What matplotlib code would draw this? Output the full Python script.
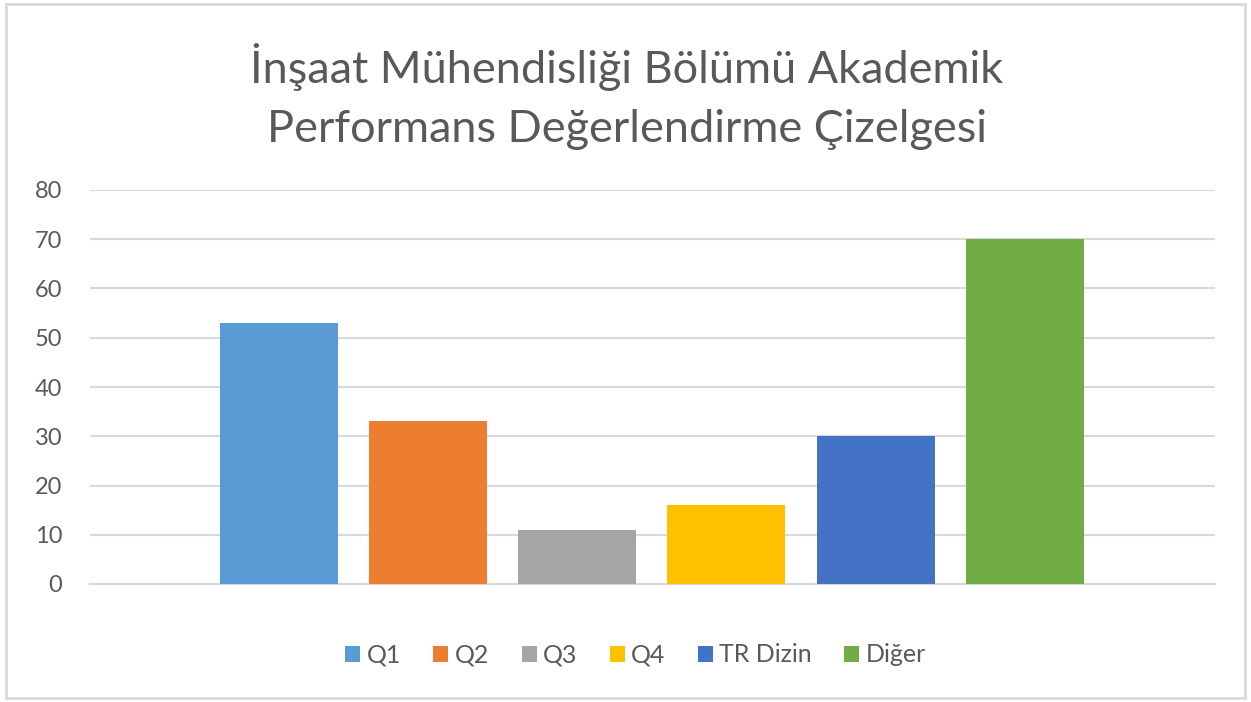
import numpy as np
import matplotlib.pyplot as plt
from matplotlib.patches import Rectangle

# Data
categories = ['Q1', 'Q2', 'Q3', 'Q4', 'TR Dizin', 'Diğer']
values = [53, 33, 11, 16, 30, 70]
colors = ['#5B9BD5', '#ED7D31', '#A5A5A5', '#FFC000', '#4472C4', '#70AD47']
yticks = [0, 10, 20, 30, 40, 50, 60, 70, 80]

title = 'İnşaat Mühendisliği Bölümü Akademik\nPerformans Değerlendirme Çizelgesi'

plt.rcParams['font.family'] = ['Lato', 'DejaVu Sans']
text_color = '#595959'
grid_color = '#D9D9D9'

fig = plt.figure(figsize=(12.51, 7.02), dpi=100)
ax = fig.add_axes([90 / 1251, (702 - 584) / 702, (1215 - 90) / 1251, (584 - 190) / 702])

x = np.arange(len(categories))
for i, (cat, val) in enumerate(zip(categories, values)):
    ax.bar(x[i], val, width=0.79, color=colors[i], label=cat, zorder=3)

ax.set_ylim(0, 80)
ax.set_xlim(-1.263, 6.273)
ax.set_yticks(yticks)
ax.set_xticks([])
ax.grid(axis='y', color=grid_color, linewidth=1.5, zorder=0)
for side in ['top', 'right', 'left']:
    ax.spines[side].set_visible(False)
ax.spines['bottom'].set_color(grid_color)
ax.spines['bottom'].set_linewidth(1.5)
ax.tick_params(axis='y', length=0, pad=20, labelsize=17, labelcolor=text_color)

fig.text(0.501, 0.862, title, ha='center', va='center', fontsize=32.5,
         color=text_color, linespacing=1.55)

leg = fig.legend(loc='center', bbox_to_anchor=(0.508, 0.067), ncol=6, frameon=False,
                 fontsize=18, handlelength=0.6, handleheight=0.6, handletextpad=0.25,
                 columnspacing=1.3, labelcolor=text_color)

# light outer border like the chart frame
fig.patches.append(Rectangle((6 / 1251, 4 / 702), 1239 / 1251, 694 / 702,
                             transform=fig.transFigure, fill=False,
                             edgecolor='#D9D9D9', linewidth=2))

fig.savefig('out.png', dpi=100)
